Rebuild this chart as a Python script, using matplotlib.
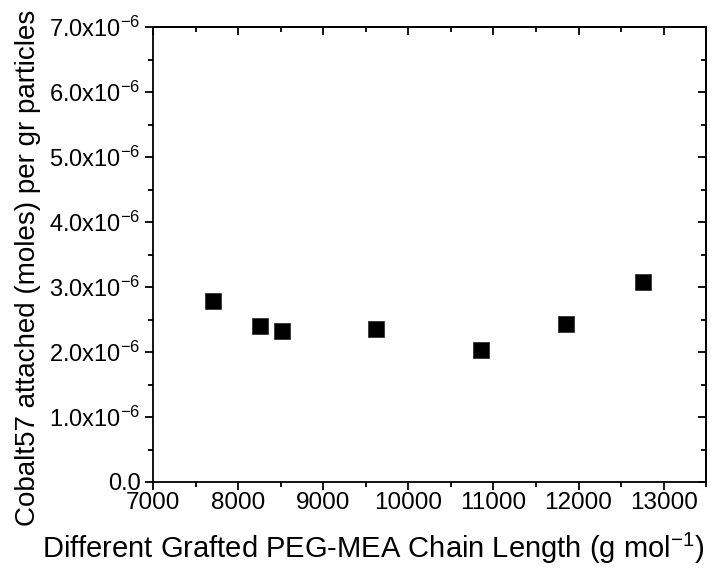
import numpy as np
import matplotlib.pyplot as plt
from matplotlib.ticker import MultipleLocator, FuncFormatter

plt.rcParams['font.family'] = ['Liberation Sans', 'DejaVu Sans']
plt.rcParams['mathtext.fontset'] = 'custom'
plt.rcParams['mathtext.rm'] = 'Liberation Sans'

# chain length (g/mol) vs Co-57 attached (mol per g particles)
chain_length = [7705, 8260, 8510, 9615, 10860, 11857, 12758]
cobalt_moles = [2.78e-6, 2.40e-6, 2.32e-6, 2.35e-6, 2.03e-6, 2.43e-6, 3.08e-6]

x_label = "Different Grafted PEG-MEA Chain Length (g mol$^{\\mathregular{-1}}$)"
y_label = "Cobalt57 attached (moles) per gr particles"


def sci_fmt(v, pos):
    if abs(v) < 1e-12:
        return "0.0"
    m = v / 1e-6
    return r"$\mathregular{%.1fx10^{-6}}$" % m


fig = plt.figure(figsize=(7.11, 5.69), dpi=100)
ax = fig.add_axes([0.2152, 0.1529, 0.778, 0.7996])

ax.plot(chain_length, cobalt_moles, linestyle='none', marker='s',
        markersize=11.5, color='black', markeredgecolor='#333333', markeredgewidth=0.6)

ax.set_xlim(7000, 13500)
ax.set_ylim(0, 7e-6)
ax.xaxis.set_major_locator(MultipleLocator(1000))
ax.xaxis.set_minor_locator(MultipleLocator(500))
ax.yaxis.set_major_locator(MultipleLocator(1e-6))
ax.yaxis.set_minor_locator(MultipleLocator(0.5e-6))
ax.yaxis.set_major_formatter(FuncFormatter(sci_fmt))

for s in ax.spines.values():
    s.set_linewidth(1.3)

ax.tick_params(which='both', direction='out', top=False, right=False, width=1.3)
ax.tick_params(which='major', length=6)
ax.tick_params(which='minor', length=3.5)
ax.tick_params(axis='x', pad=1.5, labelsize=17.5)
ax.tick_params(axis='y', pad=3, labelsize=17)

# inward ticks on the opposite sides
sec_x = ax.secondary_xaxis('top')
sec_x.xaxis.set_major_locator(MultipleLocator(1000))
sec_x.xaxis.set_minor_locator(MultipleLocator(500))
sec_x.tick_params(which='both', direction='in', labeltop=False, width=1.3)
sec_x.tick_params(which='major', length=6)
sec_x.tick_params(which='minor', length=3.5)
sec_x.spines['top'].set_linewidth(1.3)
sec_y = ax.secondary_yaxis('right')
sec_y.yaxis.set_major_locator(MultipleLocator(1e-6))
sec_y.yaxis.set_minor_locator(MultipleLocator(0.5e-6))
sec_y.tick_params(which='both', direction='in', labelright=False, width=1.3)
sec_y.tick_params(which='major', length=6)
sec_y.tick_params(which='minor', length=3.5)
sec_y.spines['right'].set_linewidth(1.3)

ax.set_xlabel(x_label, fontsize=21, va='center')
ax.xaxis.set_label_coords(0.398, -0.145)
ax.set_ylabel(y_label, fontsize=20, va='center')
ax.yaxis.set_label_coords(-0.226, 0.47)

fig.savefig("out.png", dpi=100)
